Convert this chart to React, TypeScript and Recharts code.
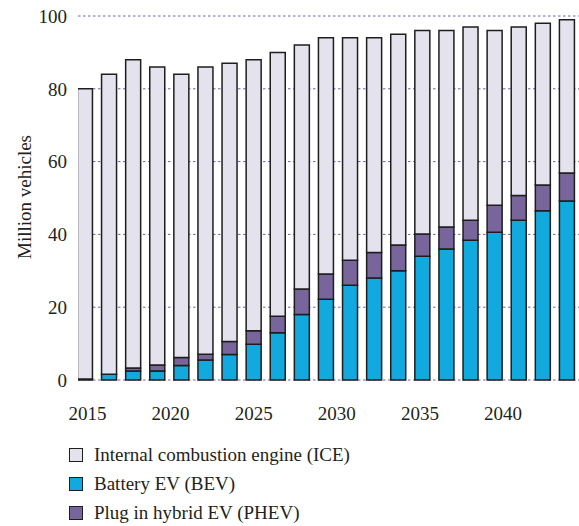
import React from "react";
import { ComposedChart, Bar, XAxis, YAxis, CartesianGrid, Legend } from "recharts";

const barIndex = [0, 1, 2, 3, 4, 5, 6, 7, 8, 9, 10, 11, 12, 13, 14, 15, 16, 17, 18, 19, 20];
const bevValues = [0.3, 1.6, 2.5, 2.5, 4.0, 5.5, 7.0, 9.8, 13.0, 18.0, 22.2, 26.0, 28.0, 30.0, 34.0, 36.0, 38.4, 40.6, 43.9, 46.5, 49.2];
const phevValues = [0, 0, 0.8, 1.6, 2.2, 1.6, 3.6, 3.7, 4.5, 7.0, 6.9, 6.9, 7.0, 7.1, 6.1, 6.0, 5.5, 7.4, 6.8, 7.1, 7.7];
const iceValues = [79.7, 82.4, 84.7, 81.9, 77.8, 78.9, 76.4, 74.5, 72.5, 67.0, 64.9, 61.1, 59.0, 57.9, 55.9, 54.0, 53.1, 48.0, 46.3, 44.4, 42.1];
const yearTicks = [2015, 2020, 2025, 2030, 2035, 2040];
const yTicks = [0, 20, 40, 60, 80, 100];

const seriesNames = {
  ice: "Internal combustion engine (ICE)",
  bev: "Battery EV (BEV)",
  phev: "Plug in hybrid EV (PHEV)",
};
const colors = { ice: "#E4E2EC", bev: "#12A9DF", phev: "#77659C" };
const STROKE = "#1E1E1E";
const FONT = "'Liberation Serif', 'Times New Roman', serif";
const TEXT = "#231F20";

const data = barIndex.map((idx, i) => ({
  idx,
  bev: bevValues[i],
  phev: phevValues[i],
  ice: iceValues[i],
}));

const legendOrder: Array<"ice" | "bev" | "phev"> = ["ice", "bev", "phev"];

const LegendContent = () => (
  <div style={{ fontFamily: FONT, fontSize: 19, color: TEXT }}>
    {legendOrder.map((k) => (
      <div key={k} style={{ display: "flex", alignItems: "center", height: 29 }}>
        <span
          style={{
            display: "inline-block",
            width: 12,
            height: 12,
            background: colors[k],
            border: `1.5px solid ${STROKE}`,
            marginRight: 11,
          }}
        />
        <span>{seriesNames[k]}</span>
      </div>
    ))}
  </div>
);

const YLabel = (props: any) => {
  const vb = props.viewBox || { x: 0, y: 0, width: 0, height: 0 };
  const x = vb.x + 12.5;
  const y = vb.y + vb.height / 2 - 1;
  return (
    <text
      x={x}
      y={y}
      transform={`rotate(-90 ${x} ${y})`}
      textAnchor="middle"
      fontFamily={FONT}
      fontSize={19}
      fill={TEXT}
    >
      Million vehicles
    </text>
  );
};

export default function App() {
  return (
    <div>
      <style>{`body{margin:0}`}</style>
      <ComposedChart
        width={579}
        height={526}
        data={data}
        margin={{ top: 16, right: 0, bottom: 106, left: 18 }}
      >
        <CartesianGrid
          vertical={false}
          stroke="#6F63B3"
          strokeDasharray="2.5 2.5"
          strokeWidth={1}
        />
        <XAxis
          xAxisId="bars"
          dataKey="idx"
          type="number"
          domain={[-0.27, 20.52]}
          allowDataOverflow
          hide
          height={0}
        />
        <XAxis
          xAxisId="years"
          dataKey="idx"
          type="number"
          domain={[2014.43, 2044.57]}
          allowDataOverflow
          ticks={yearTicks}
          interval={0}
          axisLine={false}
          tickLine={false}
          tickSize={0}
          tickMargin={27}
          height={40}
          tick={{ fontFamily: FONT, fontSize: 19, fill: TEXT }}
        />
        <YAxis
          type="number"
          domain={[0, 100]}
          ticks={yTicks}
          interval={0}
          axisLine={false}
          tickLine={false}
          tickSize={0}
          tickMargin={11}
          width={60}
          tick={{ fontFamily: FONT, fontSize: 19, fill: TEXT }}
          label={{ content: <YLabel /> }}
        />
        <Legend
          layout="vertical"
          align="center"
          verticalAlign="middle"
          wrapperStyle={{ top: 440, left: 69, width: 400 }}
          content={<LegendContent />}
        />
        <Bar xAxisId="bars" dataKey="bev" stackId="a" name={seriesNames.bev} fill={colors.bev} stroke={STROKE} strokeWidth={1.5} barSize={15} isAnimationActive={false} />
        <Bar xAxisId="bars" dataKey="phev" stackId="a" name={seriesNames.phev} fill={colors.phev} stroke={STROKE} strokeWidth={1.5} barSize={15} isAnimationActive={false} />
        <Bar xAxisId="bars" dataKey="ice" stackId="a" name={seriesNames.ice} fill={colors.ice} stroke={STROKE} strokeWidth={1.5} barSize={15} isAnimationActive={false} />
      </ComposedChart>
    </div>
  );
}
